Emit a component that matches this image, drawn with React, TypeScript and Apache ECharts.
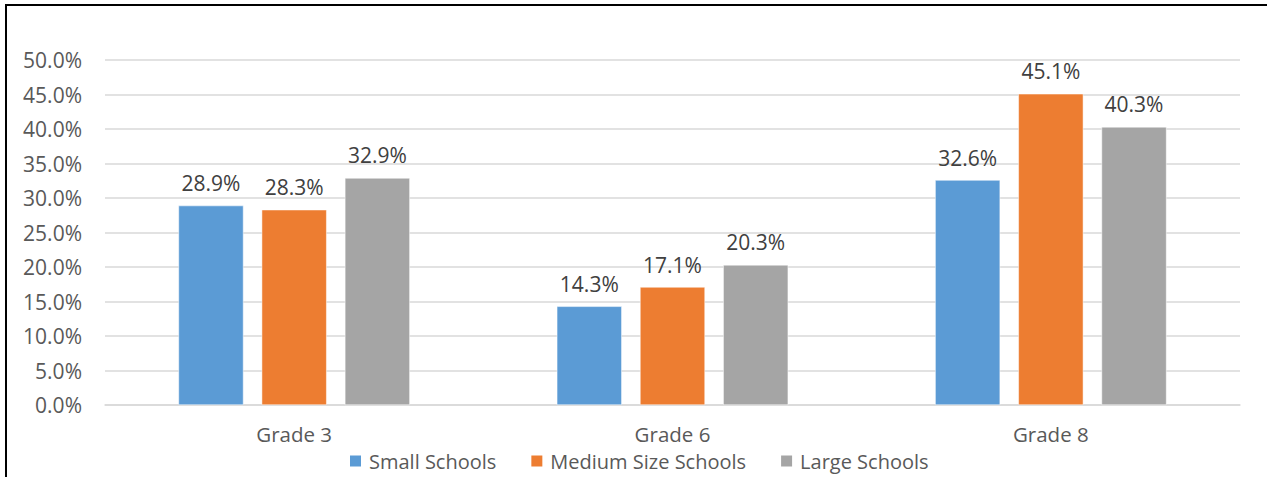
import React, { useEffect, useRef } from "react";
import * as echarts from "echarts";

const categories = ["Grade 3", "Grade 6", "Grade 8"];
const smallSchools = [28.9, 14.3, 32.6];
const mediumSchools = [28.3, 17.1, 45.1];
const largeSchools = [32.9, 20.3, 40.3];
const seriesNames = ["Small Schools", "Medium Size Schools", "Large Schools"];
const colors = ["#5B9BD5", "#ED7D31", "#A5A5A5"];

export default function App() {
  const ref = useRef<HTMLDivElement>(null);
  useEffect(() => {
    document.body.style.margin = "0";
    const chart = echarts.init(ref.current!, null, { renderer: "svg" });
    const font = "'Open Sans', sans-serif";
    const mk = (name: string, data: number[], color: string) => ({
      name,
      type: "bar",
      data,
      barWidth: 65,
      barGap: "28%",
      itemStyle: { color, borderColor: "#ffffff", borderWidth: 0.5 },
      label: {
        show: true,
        position: "top",
        distance: 12,
        formatter: (p: any) => p.value.toFixed(1) + "%",
        color: "#404040",
        fontSize: 21,
        fontFamily: font,
      },
    });
    chart.setOption({
      animation: false,
      color: colors,
      grid: { left: 105, right: 27, top: 60, bottom: 72 },
      xAxis: {
        type: "category",
        data: categories,
        axisLine: { lineStyle: { color: "#d9d9d9", width: 1.5 } },
        axisTick: { show: false },
        axisLabel: { color: "#595959", fontSize: 20.5, fontFamily: font, margin: 18 },
      },
      yAxis: {
        type: "value",
        min: 0,
        max: 50,
        interval: 5,
        axisLine: { show: false },
        axisTick: { show: false },
        splitLine: { lineStyle: { color: "#d9d9d9", width: 1.5 } },
        axisLabel: {
          color: "#595959",
          fontSize: 21,
          fontFamily: font,
          margin: 23,
          formatter: (v: number) => v.toFixed(1) + "%",
        },
      },
      legend: {
        left: 343,
        top: 446,
        itemWidth: 13,
        itemHeight: 13,
        itemGap: 33,
        icon: "rect",
        textStyle: { color: "#595959", fontSize: 20, fontFamily: font, padding: [0, 0, 0, 2] },
        data: seriesNames,
      },
      graphic: [
        { type: "line", shape: { x1: 6, y1: 4, x2: 6, y2: 477 }, style: { stroke: "#000", lineWidth: 2 } },
        { type: "line", shape: { x1: 5, y1: 5, x2: 1267, y2: 5 }, style: { stroke: "#000", lineWidth: 2 } },
      ],
      series: [
        mk(seriesNames[0], smallSchools, colors[0]),
        mk(seriesNames[1], mediumSchools, colors[1]),
        mk(seriesNames[2], largeSchools, colors[2]),
      ],
    });
    return () => chart.dispose();
  }, []);
  return <div ref={ref} style={{ width: 1267, height: 477 }} />;
}
